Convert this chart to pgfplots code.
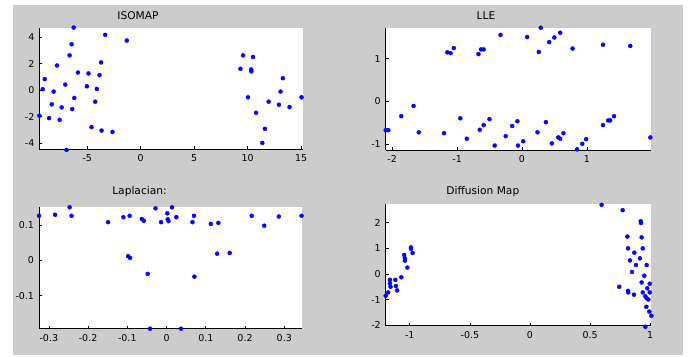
\documentclass[border=0pt]{standalone}
\usepackage{fontspec}
\setmainfont{DejaVu Sans}
\usepackage{pgfplots}
\pgfplotsset{compat=1.18}
\definecolor{figgray}{HTML}{CCCCCC}
\definecolor{matblue}{HTML}{0000FF}
\pgfplotsset{
  matstyle/.style={
    scale only axis,
    anchor=south west,
    clip=false,
    axis x line=bottom, axis y line=left,
    axis line style={black, line width=0.6bp, -},
    axis background/.style={fill=white},
    tick align=inside,
    major tick length=3bp,
    tick style={black, line width=0.6bp},
    ticklabel style={font=\fontsize{9.5}{10}\selectfont, text=black},
    /pgf/number format/assume math mode=true,
    scaled ticks=false,
    xticklabel style={yshift=-2bp},
    yticklabel style={xshift=-1.5bp},
  },
  pts/.style={only marks, mark=*, mark size=2bp, color=matblue, mark options={draw=matblue, fill=matblue}},
}
\begin{document}
\begin{tikzpicture}[x=1bp,y=1bp]
\fill[white] (0,0) rectangle (689,356);
\fill[figgray] (13,1) rectangle (683,351);

% ISOMAP
\begin{axis}[matstyle, at={(39.3bp,207bp)}, width=264bp, height=121.3bp,
  xmin=-9.48, xmax=15.2, ymin=-4.43, ymax=4.72,
  xtick={-5,0,5,10,15}, ytick={-4,-2,0,2,4}]
\addplot[pts] coordinates {
(-9.47,-1.92) (-9.16,0.08) (-8.97,0.84) (-8.57,-2.10) (-8.32,-1.06)
(-8.14,-0.10) (-7.83,1.87) (-7.58,-2.23) (-7.39,-1.29) (-7.05,0.43)
(-6.93,-4.50) (-6.65,2.63) (-6.46,3.47) (-6.40,-1.42) (-6.27,4.73)
(-6.21,-0.58) (-5.87,1.34) (-5.03,0.30) (-4.88,1.27) (-4.60,-2.78)
(-4.25,-0.86) (-4.10,0.10) (-3.85,1.14) (-3.70,2.10) (-3.66,-3.04)
(-3.32,4.18) (-2.64,-3.14) (-1.30,3.75)
(9.32,1.62) (9.57,2.63) (10.03,-0.53) (10.34,1.57) (10.34,1.42)
(10.50,2.51) (10.78,-1.70) (11.37,-3.97) (11.61,-2.91) (11.96,-0.86)
(12.92,-1.09) (13.07,-0.10) (13.29,0.91) (13.91,-1.27) (15.03,-0.53)
};
\end{axis}

% LLE
\begin{axis}[matstyle, at={(385.7bp,206bp)}, width=265.3bp, height=122.3bp,
  xmin=-2.10, xmax=1.99, ymin=-1.145, ymax=1.73,
  xtick={-2,-1,0,1}, ytick={-1,0,1}]
\addplot[pts] coordinates {
(-2.10,-0.68) (-2.06,-0.68) (-1.86,-0.35) (-1.67,-0.11) (-1.59,-0.73)
(-1.20,-0.75) (-1.15,1.15) (-1.10,1.13) (-1.05,1.25) (-0.95,-0.40)
(-0.85,-0.88) (-0.67,1.11) (-0.65,-0.67) (-0.63,1.22) (-0.59,1.22)
(-0.59,-0.56) (-0.50,-0.42) (-0.42,-1.04) (-0.33,1.56) (-0.25,-0.82)
(-0.15,-0.58) (-0.07,-0.47) (-0.06,-1.04) (0.02,-0.94) (0.08,1.51)
(0.24,-0.73) (0.26,1.16) (0.29,1.73) (0.37,-0.49) (0.42,1.39)
(0.46,-0.99) (0.50,1.50) (0.56,-0.85) (0.59,-0.88) (0.59,1.61)
(0.64,-0.75) (0.78,1.24) (0.85,-1.13) (0.93,-1.00) (0.99,-0.89)
(1.25,-0.56) (1.25,1.33) (1.33,-0.45) (1.36,-0.45) (1.42,-0.35)
(1.67,1.30) (1.98,-0.85)
};
\end{axis}

% Laplacian
\begin{axis}[matstyle, at={(39bp,27.3bp)}, width=263.3bp, height=121.4bp,
  xmin=-0.325, xmax=0.346, ymin=-0.193, ymax=0.150,
  xtick={-0.3,-0.2,-0.1,0,0.1,0.2,0.3}, ytick={-0.1,0,0.1}]
\addplot[pts] coordinates {
(-0.325,0.126) (-0.284,0.129) (-0.247,0.150) (-0.242,0.126) (-0.149,0.108)
(-0.110,0.122) (-0.098,0.012) (-0.094,0.126) (-0.093,0.007) (-0.063,0.117)
(-0.058,0.112) (-0.048,-0.038) (-0.042,-0.193) (-0.028,0.147) (-0.014,0.108)
(0.002,0.133) (0.003,0.116) (0.005,0.111) (0.014,0.150) (0.025,0.122)
(0.037,-0.193) (0.066,0.108) (0.070,0.126) (0.071,-0.046) (0.113,0.103)
(0.129,0.019) (0.132,0.106) (0.161,0.021) (0.217,0.126) (0.249,0.098)
(0.286,0.124) (0.344,0.126)
};
\end{axis}

% Diffusion Map
\begin{axis}[matstyle, at={(385.7bp,30.3bp)}, width=265.3bp, height=121.4bp,
  xmin=-1.20, xmax=1.007, ymin=-2.02, ymax=2.72,
  xtick={-1,-0.5,0,0.5,1}, ytick={-2,-1,0,1,2}]
\addplot[pts] coordinates {
(-1.20,-0.85) (-1.18,-0.72) (-1.165,-0.23) (-1.165,-0.36) (-1.16,-0.50)
(-1.12,-0.23) (-1.115,-0.47) (-1.105,-0.64) (-1.07,-0.13) (-1.046,0.74)
(-1.04,0.61) (-1.04,0.52) (-1.02,0.25) (-0.99,1.04) (-0.99,0.98)
(-0.976,0.82)
(0.596,2.70) (0.771,2.49) (0.921,2.06) (0.924,1.99) (0.810,1.46)
(0.929,1.43) (0.816,1.00) (0.938,1.00) (0.868,0.83) (0.832,0.53)
(0.915,0.61) (0.882,0.35) (0.971,0.35) (0.849,0.08) (0.951,-0.07)
(0.929,-0.33) (0.996,-0.38) (0.743,-0.50) (0.816,-0.66) (0.818,-0.72)
(0.865,-0.81) (0.938,-0.72) (0.976,-0.56) (0.996,-0.72) (0.960,-0.87)
(0.971,-0.95) (0.985,-1.00) (0.968,-1.28) (0.993,-1.47) (1.01,-1.63)
(0.960,-2.06)
};
\end{axis}

\node[anchor=base, font=\fontsize{10.7}{12}\selectfont] at (138,337) {ISOMAP};
\node[anchor=base, font=\fontsize{10.7}{12}\selectfont] at (486,337) {LLE};
\node[anchor=base, font=\fontsize{10.7}{12}\selectfont] at (139.5,161.5) {Laplacian:};
\node[anchor=base, font=\fontsize{10.7}{12}\selectfont] at (482.8,161.5) {Diffusion Map};
\end{tikzpicture}
\end{document}
